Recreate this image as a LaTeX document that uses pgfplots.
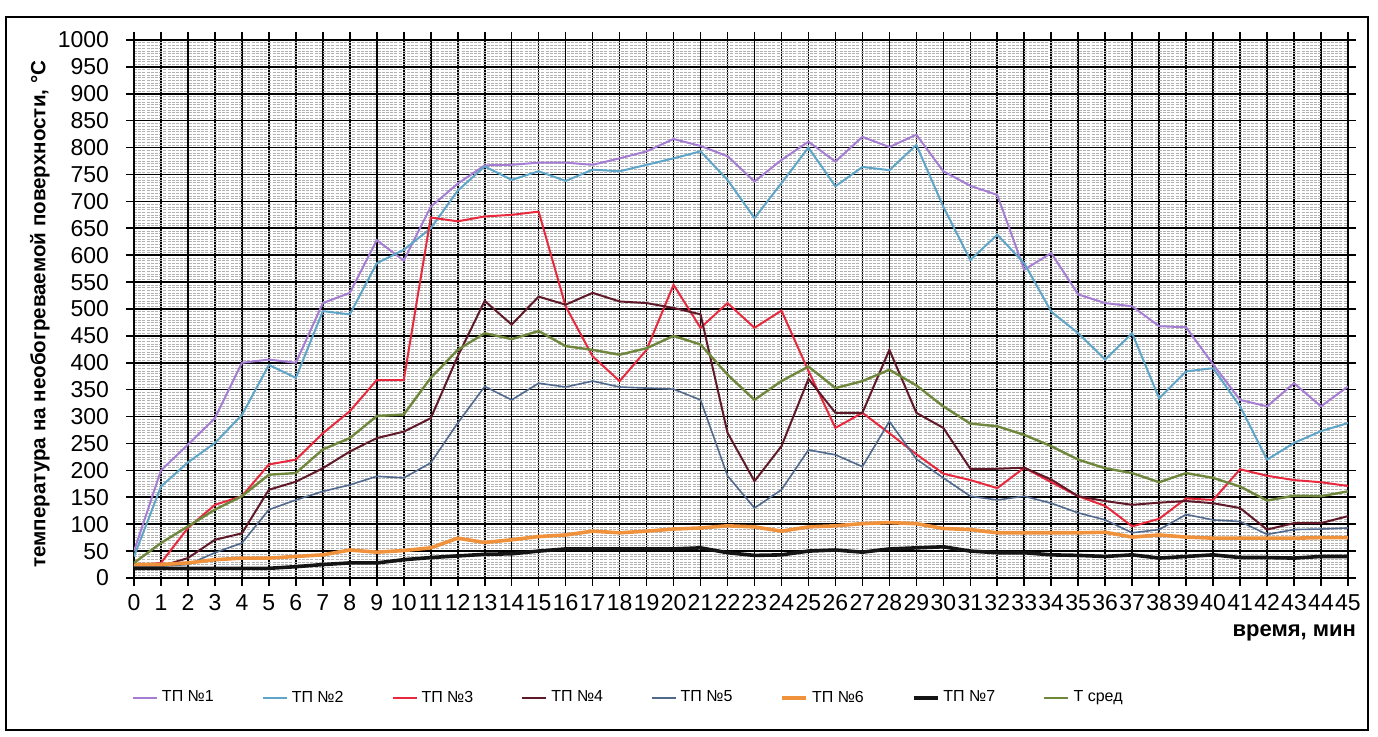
\documentclass[border=0pt]{standalone}
\usepackage{fontspec}
\setmainfont{Liberation Sans}
\usepackage{pgfplots}
\pgfplotsset{compat=1.18}
\usepackage{pgfplotstable}

\definecolor{tpA}{RGB}{165,125,210}
\definecolor{tpB}{RGB}{95,165,200}
\definecolor{tpC}{RGB}{232,40,60}
\definecolor{tpD}{RGB}{95,25,40}
\definecolor{tpE}{RGB}{80,105,140}
\definecolor{tpF}{RGB}{240,145,60}
\definecolor{tpG}{RGB}{20,20,20}
\definecolor{tpH}{RGB}{110,135,60}

\pgfplotstableread{
t s1 s2 s3 s4 s5 s6 s7 s8
0 50 40 22 22 22 25 18 28
1 200 170 28 22 22 25 18 65
2 248 215 93 37 25 28 18 96
3 297 251 136 71 47 34 18 127
4 400 303 152 83 65 37 18 152
5 406 396 211 164 127 37 18 192
6 400 372 220 179 145 40 21 195
7 511 496 269 204 161 43 25 239
8 530 490 310 235 173 52 28 260
9 628 585 368 260 189 48 28 301
10 590 610 368 272 186 51 34 304
11 690 650 670 297 214 56 38 372
12 733 720 663 412 288 74 41 424
13 767 765 672 515 356 66 44 455
14 768 740 675 471 331 71 45 444
15 772 756 681 523 362 77 50 459
16 772 738 505 508 355 80 54 431
17 768 759 412 530 366 87 54 424
18 780 756 366 514 355 84 54 415
19 793 768 424 511 353 87 54 427
20 816 780 545 502 351 91 54 450
21 803 793 465 490 331 93 56 434
22 784 740 511 270 190 97 47 378
23 737 669 465 180 130 95 42 331
24 777 734 497 245 164 87 43 366
25 811 800 385 370 238 95 50 393
26 774 728 279 307 229 97 52 353
27 820 764 307 307 207 101 48 366
28 801 758 269 424 291 103 54 387
29 824 805 230 307 221 101 56 358
30 756 690 194 279 186 92 58 319
31 729 591 182 203 152 90 50 287
32 712 638 167 203 145 84 47 282
33 573 585 205 205 152 84 47 266
34 604 495 178 183 139 84 43 245
35 527 455 152 152 121 84 42 220
36 511 406 134 143 108 85 40 204
37 505 455 96 136 84 76 43 195
38 468 334 110 140 90 80 37 178
39 466 384 148 143 118 76 40 195
40 397 390 145 139 108 74 43 186
41 331 319 202 130 105 74 38 170
42 319 220 190 90 81 74 38 144
43 362 251 182 102 90 74 37 153
44 319 273 178 102 91 75 40 152
45 356 288 171 115 93 75 40 161
}\data

\begin{document}
\begin{tikzpicture}
\begin{axis}[
  at={(0,0)}, anchor=south west,
  width=607pt, height=269pt, scale only axis,
  xmin=0, xmax=45, ymin=0, ymax=1000,
  xtick={0,1,...,45}, ytick={0,50,...,1000},
  minor y tick num=9,
  grid=both,
  major grid style={black, line width=0.8pt},
  minor grid style={gray!60, line width=0.25pt, dash pattern=on 1.5pt off 0.6pt},
  axis line style={black, line width=0.8pt},
  tick align=outside, major tick length=4pt, minor tick length=0pt,
  tick style={black, line width=0.8pt},
  ticklabel style={font=\fontsize{11.5}{13}\selectfont},
  /pgf/number format/assume math mode=true,
  /pgf/number format/1000 sep={},
  xticklabel style={inner sep=1pt, yshift=-3pt},
  yticklabel style={xshift=-5pt},
  ylabel={температура на необогреваемой поверхности, °С},
  ylabel style={font=\bfseries\fontsize{10.3}{12}\selectfont, at={(axis description cs:-0.0775,0.49)}, anchor=center},
  xlabel={время, мин},
  xlabel style={font=\bfseries\fontsize{11}{13}\selectfont, at={(axis description cs:1,0)}, anchor=north east, yshift=-20pt, xshift=7.5pt},
  legend columns=8,
  legend style={at={(axis description cs:0.408,-0.223)}, anchor=center, draw=none, fill=none,
    font=\fontsize{8}{10}\selectfont,
    /tikz/every even column/.append style={column sep=22pt}},
  legend image code/.code={\draw[#1] (0pt,0pt) -- (12pt,0pt);},
]
\addplot[tpA, line width=1pt] table[x=t,y=s1]{\data};
\addlegendentry{ТП №1}
\addplot[tpB, line width=1pt] table[x=t,y=s2]{\data};
\addlegendentry{ТП №2}
\addplot[tpC, line width=1pt] table[x=t,y=s3]{\data};
\addlegendentry{ТП №3}
\addplot[tpD, line width=1pt] table[x=t,y=s4]{\data};
\addlegendentry{ТП №4}
\addplot[tpE, line width=0.8pt] table[x=t,y=s5]{\data};
\addlegendentry{ТП №5}
\addplot[tpF, line width=1.8pt] table[x=t,y=s6]{\data};
\addlegendentry{ТП №6}
\addplot[tpG, line width=1.8pt] table[x=t,y=s7]{\data};
\addlegendentry{ТП №7}
\addplot[tpH, line width=1.2pt] table[x=t,y=s8]{\data};
\addlegendentry{Т сред}
\end{axis}
\draw[black, line width=0.8pt] (-64pt,-76pt) rectangle (617pt,280.5pt);
\pgfresetboundingbox
\path[use as bounding box] (-67pt,-79.5pt) rectangle (622pt,289pt);
\end{tikzpicture}
\end{document}
